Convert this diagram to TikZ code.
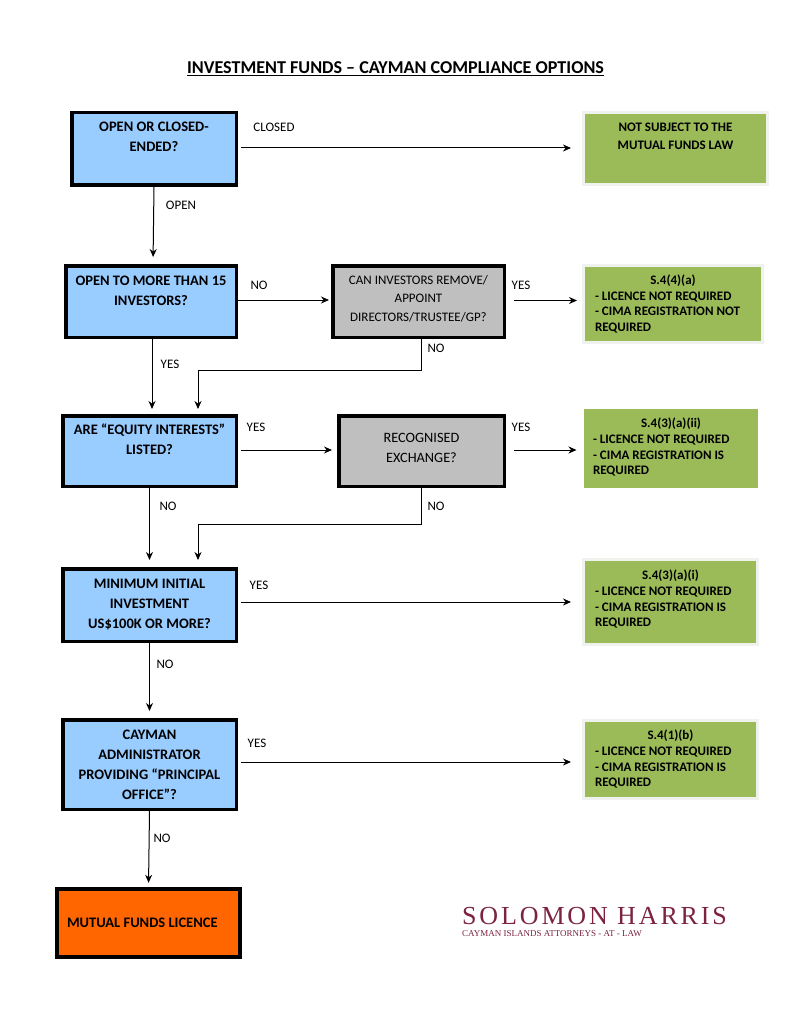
\documentclass[tikz,border=0pt]{standalone}
\usepackage{fontspec}
\setmainfont{Carlito}
\newfontfamily\logofont[LetterSpace=11]{Liberation Serif}
\newfontfamily\logosmall{Liberation Serif}
\usetikzlibrary{arrows.meta}
\definecolor{qblue}{HTML}{99CCFF}
\definecolor{qgray}{HTML}{BFBFBF}
\definecolor{qgreen}{HTML}{9BBB59}
\definecolor{qhalo}{HTML}{F0F2EE}
\definecolor{qorange}{HTML}{FF6600}
\definecolor{qlogo}{HTML}{7B2340}
\tikzset{
	qbox/.style={draw=black, line width=3.5pt, fill=qblue, align=flush center, text width=#1, inner sep=0pt, font=\fontsize{14.5}{20}\selectfont\bfseries},
	qbox/.default=160pt,
	graybox/.style={qbox=160pt, fill=qgray, font=\fontsize{13}{18.5}\selectfont},
	greenbox/.style={draw=qhalo, line width=3pt, fill=qgreen, align=flush left, text width=#1, inner sep=0pt, font=\fontsize{13}{15.7}\selectfont\bfseries},
	lab/.style={font=\fontsize{13}{14}\selectfont, inner sep=0pt},
	arr/.style={->, line width=1pt},
}
\begin{document}
\begin{tikzpicture}[x=1pt, y=-1pt, line join=miter, >={Stealth[length=8pt,width=7pt]}]
	\fill[white] (0,0) rectangle (791,1024);
	\useasboundingbox (0,0) rectangle (791,1024);
	\node[font=\fontsize{18.1}{22}\selectfont\bfseries, inner sep=0pt] (title) at (395.5,69) {\underline{INVESTMENT FUNDS -- CAYMAN COMPLIANCE OPTIONS}};

	\node[qbox, minimum width=164.5pt, minimum height=72.5pt] (open) at (154,149) {OPEN OR CLOSED-\\ENDED?\\[4pt]\null};
	\node[qbox, minimum width=170.5pt, minimum height=71.5pt] (more) at (151,301.5) {OPEN TO MORE THAN 15\\INVESTORS?\\[2pt]\null};
	\node[qbox, minimum width=173.5pt, minimum height=70.5pt] (equity) at (149.5,451) {ARE “EQUITY INTERESTS”\\LISTED?\\[4pt]\null};
	\node[qbox, minimum width=173.5pt, minimum height=72.5pt] (minimum) at (149.5,605) {MINIMUM INITIAL\\INVESTMENT\\US\$100K OR MORE?};
	\node[qbox, minimum width=173.5pt, minimum height=89.5pt] (admin) at (149.5,764.5) {CAYMAN\\ADMINISTRATOR\\PROVIDING “PRINCIPAL\\OFFICE”?};
	\node[qbox=163pt, fill=qorange, align=flush left, minimum width=183.5pt, minimum height=68.5pt, line width=4pt] (licence) at (148.5,923) {MUTUAL FUNDS LICENCE};

	\node[graybox, minimum width=171.5pt, minimum height=71.5pt] (remove) at (418.5,301.5) {CAN INVESTORS REMOVE/\\APPOINT\\DIRECTORS/TRUSTEE/GP?\\[-11.5pt]\null};
	\node[graybox, font=\fontsize{14.3}{20}\selectfont, minimum width=165.5pt, minimum height=70.5pt] (recog) at (421.5,451) {RECOGNISED\\EXCHANGE?\\[-14pt]\null};

	\node[greenbox=170pt, align=flush center, font=\fontsize{13}{18}\selectfont\bfseries, minimum width=184pt, minimum height=72pt] (nolaw) at (675.5,148.5) {NOT SUBJECT TO THE\\MUTUAL FUNDS LAW\\[6pt]\null};
	\node[greenbox=156pt, minimum width=179pt, minimum height=77pt] (sfour) at (673,304) {\hfill S.4(4)(a)\hfill\null\\- LICENCE NOT REQUIRED\\- CIMA REGISTRATION NOT\\REQUIRED};
	\node[greenbox=156pt, draw=none, minimum width=174pt, minimum height=79pt] (sthreeii) at (671,448.5) {\hfill S.4(3)(a)(ii)\hfill\null\\- LICENCE NOT REQUIRED\\- CIMA REGISTRATION IS\\REQUIRED\\[-11.7pt]\null};
	\node[greenbox=151pt, minimum width=174pt, minimum height=85pt] (sthreei) at (670.5,602) {\hfill S.4(3)(a)(i)\hfill\null\\- LICENCE NOT REQUIRED\\- CIMA REGISTRATION IS\\REQUIRED\\[-8.7pt]\null};
	\node[greenbox=151pt, minimum width=174pt, minimum height=78pt] (sone) at (670.5,759.5) {\hfill S.4(1)(b)\hfill\null\\- LICENCE NOT REQUIRED\\- CIMA REGISTRATION IS\\REQUIRED\\[-13.7pt]\null};

	\draw[arr, shorten <=3pt, shorten >=11pt] ([yshift=1pt]open.east) -- ([yshift=1pt]open.east -| nolaw.west);
	\draw[arr, shorten >=7pt] (open.south) -- ([xshift=2pt]more.north);
	\draw[arr, shorten >=2pt] ([yshift=1.5pt]more.east) -- ([yshift=1.5pt]more.east -| remove.west);
	\draw[arr, shorten <=8pt, shorten >=5pt] ([yshift=1pt]remove.east) -- ([yshift=1pt]remove.east -| sfour.west);
	\draw[arr, shorten >=5pt] ([xshift=1pt]more.south) -- ([xshift=2.5pt]equity.north);
	\draw[arr, shorten >=5pt] ([xshift=2.5pt]remove.south) |- ++(0,31) -| ([xshift=48.5pt]equity.north);
	\draw[arr, shorten <=3pt, shorten >=5pt] ([yshift=1pt]equity.east) -- ([yshift=1pt]equity.east -| recog.west);
	\draw[arr, shorten <=8pt, shorten >=6pt] ([yshift=1pt]recog.east) -- ([yshift=1pt]recog.east -| sthreeii.west);
	\draw[arr, shorten >=7pt] (equity.south) -- (minimum.north);
	\draw[arr, shorten >=7pt] ([xshift=-0.5pt]recog.south) |- ++(0,36) -| ([xshift=48.5pt]minimum.north);
	\draw[arr, shorten <=3pt, shorten >=11pt] ([yshift=3pt]minimum.east) -- ([yshift=3pt]minimum.east -| sthreei.west);
	\draw[arr, shorten >=7pt] (minimum.south) -- (admin.north);
	\draw[arr, shorten <=3pt, shorten >=11pt] ([yshift=2.5pt]admin.east) -- ([yshift=2.5pt]admin.east -| sone.west);
	\draw[arr, shorten >=4pt] (admin.south) -- (licence.north);

	\foreach \n/\x/\y/\t in {lclosed/274/127/CLOSED, lopen/181/205/OPEN, lno/259/285/NO, lyes/521/285/YES, lnob/436/348/NO, lyesb/170/364/YES, lyesc/256/427/YES, lyesd/521/427/YES, lnoc/168/506/NO, lnod/436/506/NO, lyese/259/585/YES, lnoe/165/664/NO, lyesf/257/743/YES, lnof/162/838/NO}
	\node[lab] (\n) at (\x,\y) {\t};

	\node[text=qlogo, font=\logofont\fontsize{26}{28}\selectfont, inner sep=0pt, anchor=base west] (logo) at (462,924) {SOLOMON HARRIS};
	\node[text=qlogo, font=\logosmall\fontsize{9}{10}\selectfont, inner sep=0pt, anchor=west] (tagline) at (462,934) {CAYMAN ISLANDS ATTORNEYS - AT - LAW};
\end{tikzpicture}
\end{document}
